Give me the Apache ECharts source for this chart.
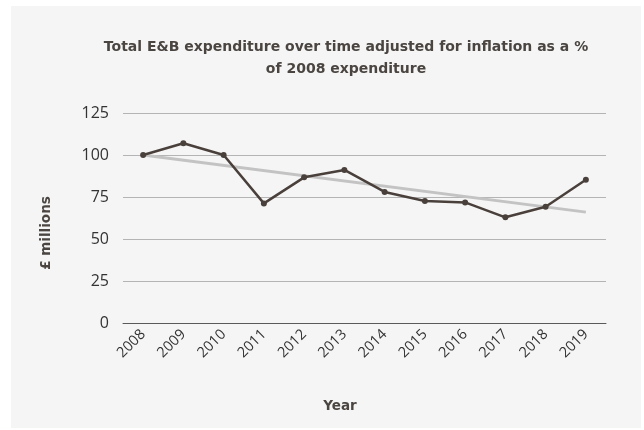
<!DOCTYPE html>
<html>
<head>
<meta charset="utf-8">
<script src="https://cdn.jsdelivr.net/npm/echarts@6/dist/echarts.min.js"></script>
<style>
  html, body { margin: 0; padding: 0; background: #ffffff; }
  #chart { width: 644px; height: 430px; }
</style>
</head>
<body>
<div id="chart"></div>
<script>
// Years shown on the category axis
const years = ['2008', '2009', '2010', '2011', '2012', '2013', '2014', '2015', '2016', '2017', '2018', '2019'];

// Expenditure, inflation adjusted, as % of 2008
const expenditure = [100, 107, 100, 71.2, 86.7, 91.1, 78, 72.6, 71.8, 62.9, 69.2, 85.3];

// Linear trend: start and end values
const trendStart = 100;
const trendEnd = 66;

// Value-axis ticks
const yMin = 0;
const yMax = 125;
const yStep = 25;

const trendData = years.map((y, i) =>
  i === 0 ? trendStart : (i === years.length - 1 ? trendEnd : null));

const textColor = '#4a4541';
const headFont = 'DejaVu Sans';
const chart = echarts.init(document.getElementById('chart'), null, { renderer: 'canvas' });

chart.setOption({
  backgroundColor: '#ffffff',
  animation: false,
  title: {
    text: 'Total E&B expenditure over time adjusted for inflation as a %\nof 2008 expenditure',
    left: 341,
    top: 31,
    textAlign: 'center',
    textStyle: {
      fontFamily: headFont,
      fontWeight: 'bold',
      fontSize: 14,
      lineHeight: 22,
      color: textColor
    }
  },
  graphic: [
    {
      type: 'rect',
      z: -10,
      silent: true,
      shape: { x: 11, y: 6, width: 630, height: 422 },
      style: { fill: '#f5f5f5' }
    },
    {
      type: 'text',
      x: 46,
      y: 233,
      rotation: Math.PI / 2,
      style: {
        text: '£ millions',
        fontFamily: headFont,
        fontWeight: 'bold',
        fontSize: 13.5,
        fill: textColor,
        align: 'center',
        verticalAlign: 'middle'
      }
    },
    {
      type: 'text',
      x: 340,
      y: 406,
      style: {
        text: 'Year',
        fontFamily: headFont,
        fontWeight: 'bold',
        fontSize: 13.5,
        fill: textColor,
        align: 'center',
        verticalAlign: 'middle'
      }
    }
  ],
  grid: { left: 123, right: 38, top: 113, bottom: 107 },
  xAxis: {
    type: 'category',
    data: years,
    boundaryGap: true,
    axisLine: { lineStyle: { color: '#5a5a5a', width: 1 } },
    axisTick: { show: false },
    axisLabel: {
      rotate: 45,
      margin: 9,
      fontFamily: 'Open Sans',
      fontSize: 14.5,
      color: '#333333'
    }
  },
  yAxis: {
    type: 'value',
    min: yMin,
    max: yMax,
    interval: yStep,
    axisLine: { show: false },
    axisTick: { show: false },
    splitLine: { lineStyle: { color: '#b4b4b4', width: 1 } },
    axisLabel: {
      margin: 14,
      fontFamily: 'Open Sans',
      fontSize: 16,
      color: '#333333'
    }
  },
  series: [
    {
      name: 'Trend',
      type: 'line',
      data: trendData,
      connectNulls: true,
      symbol: 'none',
      z: 1,
      lineStyle: { color: '#c3c3c3', width: 3 }
    },
    {
      name: 'Expenditure',
      type: 'line',
      data: expenditure,
      symbol: 'circle',
      symbolSize: 6,
      z: 3,
      itemStyle: { color: '#4a403b' },
      lineStyle: { color: '#4a403b', width: 2.5 }
    }
  ]
});
</script>
</body>
</html>
